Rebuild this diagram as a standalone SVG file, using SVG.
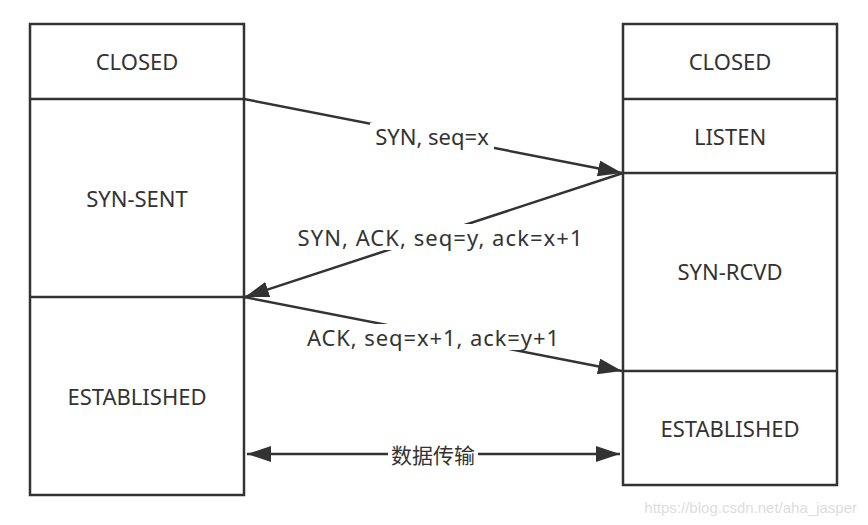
<svg xmlns="http://www.w3.org/2000/svg" width="868" height="525" viewBox="0 0 868 525">
<style>
.box{fill:#fff;stroke:#333;stroke-width:2.5}
.div{stroke:#333;stroke-width:2.5}
.t{font-family:"Noto Sans","Noto Sans CJK SC",sans-serif;font-size:22px;fill:#333;text-anchor:middle;dominant-baseline:central}
.c{stroke:#333;stroke-width:2.5;fill:none}
.lbl{font-family:"Noto Sans","Noto Sans CJK SC",sans-serif;font-size:22px;fill:#333;text-anchor:middle;dominant-baseline:central}
.bg{fill:#fff}
</style>
<defs>
<marker id="a" viewBox="0 0 24 16" refX="24" refY="8" markerWidth="24" markerHeight="16" markerUnits="userSpaceOnUse" orient="auto-start-reverse">
<path d="M0,0 L24,8 L0,16 z" fill="#333"/>
</marker>
</defs>
<rect width="868" height="525" fill="#fff"/>
<g id="client">
<rect class="box" x="30" y="24" width="214" height="471"/>
<line class="div" x1="30" y1="99" x2="244" y2="99"/>
<line class="div" x1="30" y1="297" x2="244" y2="297"/>
<text class="t" x="137" y="61">CLOSED</text>
<text class="t" x="137" y="198">SYN-SENT</text>
<text class="t" x="137" y="396">ESTABLISHED</text>
</g>
<g id="server">
<rect class="box" x="623" y="24" width="214" height="461"/>
<line class="div" x1="623" y1="99" x2="837" y2="99"/>
<line class="div" x1="623" y1="173" x2="837" y2="173"/>
<line class="div" x1="623" y1="371" x2="837" y2="371"/>
<text class="t" x="730" y="61">CLOSED</text>
<text class="t" x="730" y="136">LISTEN</text>
<text class="t" x="730" y="271">SYN-RCVD</text>
<text class="t" x="730" y="428">ESTABLISHED</text>
</g>
<g id="connectors">
<line class="c" x1="244" y1="99" x2="622" y2="173" marker-end="url(#a)"/>
<line class="c" x1="623" y1="173" x2="245" y2="297" marker-end="url(#a)"/>
<line class="c" x1="244" y1="297" x2="622" y2="371" marker-end="url(#a)"/>
<line class="c" x1="247" y1="454" x2="620" y2="454" marker-start="url(#a)" marker-end="url(#a)"/>
<rect class="bg" x="370" y="123" width="124" height="26"/>
<text class="lbl" x="432" y="136">SYN, seq=x</text>
<rect class="bg" x="294" y="224" width="290" height="26"/>
<text class="lbl" x="440" y="237" textLength="285" lengthAdjust="spacing">SYN, ACK, seq=y, ack=x+1</text>
<rect class="bg" x="304" y="324" width="258" height="26"/>
<text class="lbl" x="433" y="337" textLength="252" lengthAdjust="spacing">ACK, seq=x+1, ack=y+1</text>
<rect class="bg" x="388" y="441" width="90" height="26"/>
<text class="lbl" x="433" y="455" style="font-size:21px">数据传输</text>
</g>
<text x="857" y="507" font-family="Liberation Sans, Arial, sans-serif" font-size="15" fill="#ddd" text-anchor="end" dominant-baseline="central">https://blog.csdn.net/aha_jasper</text>
</svg>
